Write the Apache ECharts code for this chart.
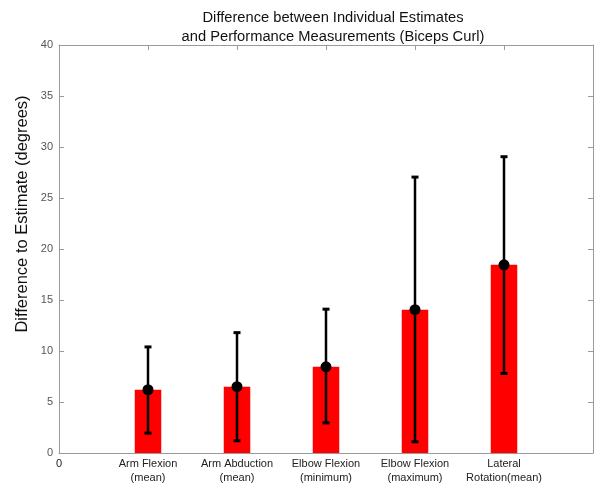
<!DOCTYPE html>
<html>
<head>
<meta charset="utf-8">
<script src="https://cdn.jsdelivr.net/npm/echarts@6/dist/echarts.min.js"></script>
<style>
  html, body { margin: 0; padding: 0; background: #fff; }
  #chart { width: 595px; height: 485px; }
</style>
</head>
<body>
<div id="chart"></div>
<script>
// Measurements per movement: mean difference and error range
const categories = ['Arm Flexion\n(mean)', 'Arm Abduction\n(mean)', 'Elbow Flexion\n(minimum)', 'Elbow Flexion\n(maximum)', 'Lateral\nRotation(mean)'];
const positions = [1, 2, 3, 4, 5];
const meanValues = [6.2, 6.5, 8.45, 14.05, 18.45];
const errorHigh = [10.4, 11.8, 14.1, 27.05, 29.05];
const errorLow = [1.95, 1.2, 2.95, 1.1, 7.8];
const yTicks = [0, 5, 10, 15, 20, 25, 30, 35, 40];

const font = '"Liberation Sans", Arial, sans-serif';
const axisGray = '#9a9a9a';

const barData = positions.map((x, i) => [x, meanValues[i]]);
const errData = positions.map((x, i) => [x, errorLow[i], errorHigh[i]]);

const chart = echarts.init(document.getElementById('chart'), null, { renderer: 'canvas' });

chart.setOption({
  animation: false,
  backgroundColor: '#fff',
  title: {
    text: 'Difference between Individual Estimates\nand Performance Measurements (Biceps Curl)',
    left: 328, top: 4, textAlign: 'center',
    textStyle: { fontFamily: font, fontSize: 14.7, fontWeight: 'normal', color: '#111', lineHeight: 18.5 }
  },
  // rotated axis title
  graphic: [{
    type: 'text',
    x: 22, y: 214,
    rotation: Math.PI / 2,
    style: {
      text: 'Difference to Estimate (degrees)',
      font: '16.5px ' + font,
      fill: '#111',
      textAlign: 'center',
      textVerticalAlign: 'middle'
    }
  }],
  grid: { left: 59, right: 2, top: 45, bottom: 32 },
  xAxis: [{
    type: 'value', min: 0, max: 6, interval: 1,
    splitLine: { show: false },
    axisLine: { show: true, onZero: false, lineStyle: { color: axisGray, width: 1 } },
    axisTick: { show: true, inside: true, length: 5, customValues: positions, lineStyle: { color: axisGray } },
    axisLabel: {
      customValues: [0].concat(positions),
      margin: 4,
      fontFamily: font, fontSize: 11, color: '#222', lineHeight: 14,
      formatter: v => (v === 0 ? '0' : (categories[v - 1] || ''))
    }
  }, {
    type: 'value', min: 0, max: 6, interval: 1, position: 'top',
    splitLine: { show: false },
    axisLine: { show: true, onZero: false, lineStyle: { color: axisGray, width: 1 } },
    axisTick: { show: true, inside: true, length: 5, customValues: positions, lineStyle: { color: axisGray } },
    axisLabel: { show: false }
  }],
  yAxis: [{
    type: 'value', min: 0, max: 40, interval: 5,
    splitLine: { show: false },
    axisLine: { show: true, onZero: false, lineStyle: { color: axisGray, width: 1 } },
    axisTick: { show: true, inside: true, length: 5, lineStyle: { color: axisGray } },
    axisLabel: {
      margin: 6, fontFamily: font, fontSize: 11, color: '#555',
      formatter: v => (yTicks.indexOf(v) >= 0 ? String(v) : '')
    }
  }, {
    type: 'value', min: 0, max: 40, interval: 5, position: 'right',
    splitLine: { show: false },
    axisLine: { show: true, onZero: false, lineStyle: { color: axisGray, width: 1 } },
    axisTick: { show: true, inside: true, length: 5, lineStyle: { color: axisGray } },
    axisLabel: { show: false }
  }],
  series: [{
    type: 'bar',
    data: barData,
    barWidth: 26.5,
    itemStyle: { color: '#ff0000' },
    z: 2
  }, {
    type: 'custom',
    data: errData,
    z: 3,
    renderItem: function (params, api) {
      const x = api.value(0);
      const lo = api.coord([x, api.value(1)]);
      const hi = api.coord([x, api.value(2)]);
      const half = 3.5;
      const stroke = { stroke: '#000', lineWidth: 2.5 };
      const cap = { stroke: '#000', lineWidth: 3 };
      return {
        type: 'group',
        children: [
          { type: 'line', shape: { x1: lo[0], y1: lo[1], x2: hi[0], y2: hi[1] }, style: stroke },
          { type: 'line', shape: { x1: hi[0] - half, y1: hi[1], x2: hi[0] + half, y2: hi[1] }, style: cap },
          { type: 'line', shape: { x1: lo[0] - half, y1: lo[1], x2: lo[0] + half, y2: lo[1] }, style: cap }
        ]
      };
    }
  }, {
    type: 'scatter',
    data: barData,
    symbol: 'circle',
    symbolSize: 11,
    itemStyle: { color: '#000', opacity: 1 },
    z: 4
  }]
});
</script>
</body>
</html>
